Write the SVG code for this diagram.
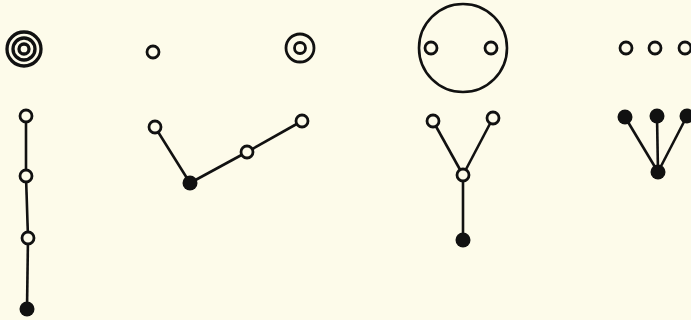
<svg xmlns="http://www.w3.org/2000/svg" width="691" height="320" viewBox="0 0 691 320">
<style>
.bg{fill:#fdfbea}
.o{fill:#fdfbea;stroke:#111;stroke-width:2.8}
.f{fill:#111;stroke:none}
.ring{fill:none;stroke:#111;stroke-width:3.3}
.edge{stroke:#111;stroke-width:2.6;fill:none}
</style>
<rect class="bg" width="691" height="320"/>
<g id="connectors">
<line class="edge" x1="26" y1="116" x2="26" y2="176"/>
<line class="edge" x1="26" y1="176" x2="28" y2="238"/>
<line class="edge" x1="28" y1="238" x2="27" y2="309"/>
<line class="edge" x1="155" y1="127" x2="190" y2="183"/>
<line class="edge" x1="190" y1="183" x2="247" y2="152"/>
<line class="edge" x1="247" y1="152" x2="302" y2="121"/>
<line class="edge" x1="433" y1="121" x2="463" y2="175"/>
<line class="edge" x1="493" y1="118" x2="463" y2="175"/>
<line class="edge" x1="463" y1="175" x2="463" y2="240"/>
<line class="edge" x1="625" y1="117" x2="658" y2="172"/>
<line class="edge" x1="657" y1="116" x2="658" y2="172"/>
<line class="edge" x1="687" y1="116" x2="658" y2="172"/>
</g>
<g id="fig1-target">
<circle class="ring" cx="24" cy="49" r="17"/>
<circle class="ring" cx="24" cy="49" r="11"/>
<circle class="ring" cx="24" cy="49" r="5"/>
</g>
<g id="fig1-n1"><circle class="o" cx="26" cy="116" r="6"/></g>
<g id="fig1-n2"><circle class="o" cx="26" cy="176" r="6"/></g>
<g id="fig1-n3"><circle class="o" cx="28" cy="238" r="6"/></g>
<g id="fig1-n4"><circle class="f" cx="27" cy="309" r="7.5"/></g>
<g id="fig2-single"><circle class="o" cx="153" cy="52" r="6"/></g>
<g id="fig2-double">
<circle class="ring" cx="300" cy="48" r="14" style="stroke-width:2.8"/>
<circle class="o" cx="300" cy="48" r="5.5"/>
</g>
<g id="fig2-n1"><circle class="o" cx="155" cy="127" r="6"/></g>
<g id="fig2-n2"><circle class="f" cx="190" cy="183" r="7.5"/></g>
<g id="fig2-n3"><circle class="o" cx="247" cy="152" r="6"/></g>
<g id="fig2-n4"><circle class="o" cx="302" cy="121" r="6"/></g>
<g id="fig3-enclosure">
<circle class="ring" cx="463" cy="48" r="44" style="stroke-width:2.6"/>
<circle class="o" cx="431" cy="48" r="6"/>
<circle class="o" cx="491" cy="48" r="6"/>
</g>
<g id="fig3-n1"><circle class="o" cx="433" cy="121" r="6"/></g>
<g id="fig3-n2"><circle class="o" cx="493" cy="118" r="6"/></g>
<g id="fig3-n3"><circle class="o" cx="463" cy="175" r="6"/></g>
<g id="fig3-n4"><circle class="f" cx="463" cy="240" r="7.5"/></g>
<g id="fig4-s1"><circle class="o" cx="626" cy="48" r="6"/></g>
<g id="fig4-s2"><circle class="o" cx="655" cy="48" r="6"/></g>
<g id="fig4-s3"><circle class="o" cx="685" cy="48" r="6"/></g>
<g id="fig4-n1"><circle class="f" cx="625" cy="117" r="7.5"/></g>
<g id="fig4-n2"><circle class="f" cx="657" cy="116" r="7.5"/></g>
<g id="fig4-n3"><circle class="f" cx="687" cy="116" r="7.5"/></g>
<g id="fig4-n4"><circle class="f" cx="658" cy="172" r="7.5"/></g>
</svg>
